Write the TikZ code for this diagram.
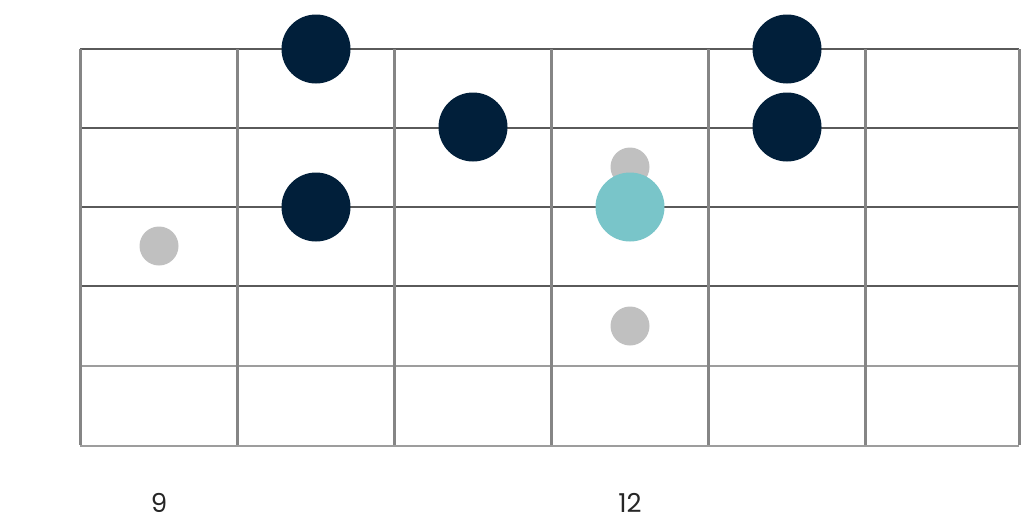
\documentclass[tikz,border=0pt]{standalone}
\usepackage{fontspec}
\setmainfont{Poppins}
\definecolor{navy}{HTML}{011F3A}
\definecolor{teal}{HTML}{79C5C9}
\definecolor{dotgray}{HTML}{C0C0C0}
\definecolor{fretgray}{HTML}{858585}
\definecolor{strgray}{HTML}{5A5A5A}
\begin{document}
\begin{tikzpicture}[x=1pt,y=-1pt,
  stringline/.style={draw=strgray,line width=1.2pt},
  lowstring/.style={draw=fretgray!80,line width=2pt},
  fretline/.style={draw=fretgray,line width=3pt},
  bignote/.style={circle,fill=navy,minimum size=69pt,inner sep=0pt},
  rootnote/.style={circle,fill=teal,minimum size=69pt,inner sep=0pt},
  ghost/.style={circle,fill=dotgray,minimum size=39pt,inner sep=0pt},
  fretnum/.style={font=\fontsize{26}{30}\selectfont,text=black!85}]
\useasboundingbox (0,0) rectangle (1024,530);
% strings
\foreach \y in {49,128,207,286} \draw[stringline] (80,\y) -- (1019,\y);
\foreach \y in {366,446} \draw[lowstring] (80,\y) -- (1019,\y);
% frets
\foreach \x in {80,237,394,551,708,865,1019} \draw[fretline] (\x,49) -- (\x,445);
% ghost notes
\node[ghost] (g1) at (159,246) {};
\node[ghost] (g2) at (630,167) {};
\node[ghost] (g3) at (630,326) {};
% notes
\node[bignote] (n1) at (316,49) {};
\node[bignote] (n2) at (316,207) {};
\node[bignote] (n3) at (473,127) {};
\node[bignote] (n4) at (787,49) {};
\node[bignote] (n5) at (787,127) {};
\node[rootnote] (r1) at (630,207) {};
% fret numbers
\node[fretnum] (f9) at (159,503) {9};
\node[fretnum] (f12) at (630,503) {12};
\end{tikzpicture}
\end{document}
